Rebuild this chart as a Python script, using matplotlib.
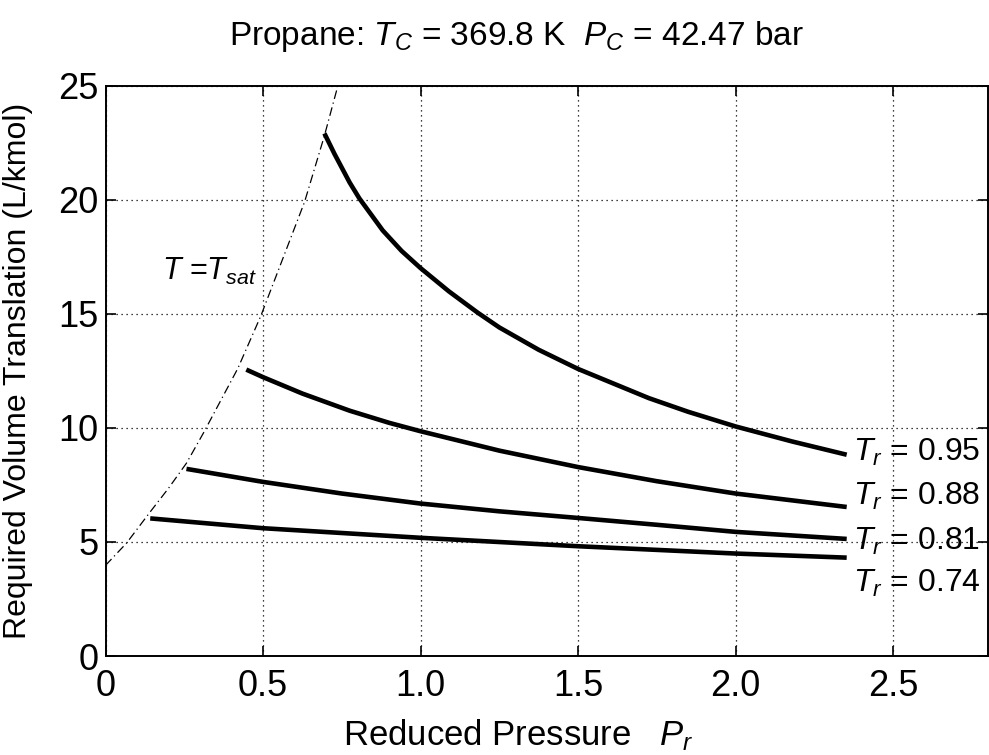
import matplotlib
matplotlib.use("Agg")
import matplotlib.pyplot as plt

plt.rcParams["font.family"] = ["Liberation Sans", "DejaVu Sans"]
plt.rcParams["mathtext.fontset"] = "custom"
plt.rcParams["mathtext.it"] = "Liberation Sans:italic"
plt.rcParams["mathtext.rm"] = "Liberation Sans"
plt.rcParams["mathtext.bf"] = "Liberation Sans:bold"

# isotherms: reduced pressure vs required volume translation (L/kmol)
pr_95 = [0.695, 0.727, 0.775, 0.806, 0.88, 0.94, 1.0, 1.09, 1.181, 1.25, 1.375, 1.5,
         1.725, 1.85, 2.0, 2.18, 2.353]
v_95 = [22.9, 22.0, 20.75, 20.05, 18.65, 17.75, 17.0, 15.98, 15.05, 14.4, 13.42, 12.58,
        11.3, 10.7, 10.06, 9.4, 8.82]
pr_88 = [0.447, 0.5, 0.625, 0.775, 0.9, 1.0, 1.25, 1.5, 1.75, 2.0, 2.353]
v_88 = [12.55, 12.22, 11.5, 10.75, 10.22, 9.85, 9.0, 8.28, 7.66, 7.12, 6.53]
pr_81 = [0.257, 0.5, 0.75, 1.0, 1.25, 1.5, 1.75, 2.0, 2.353]
v_81 = [8.2, 7.63, 7.12, 6.68, 6.34, 6.05, 5.75, 5.44, 5.13]
pr_74 = [0.142, 0.5, 1.0, 1.5, 2.0, 2.353]
v_74 = [6.03, 5.6, 5.18, 4.81, 4.49, 4.31]

# saturation boundary
pr_sat = [0.0, 0.067, 0.141, 0.2, 0.257, 0.31, 0.42, 0.493, 0.632, 0.695, 0.734, 0.75]
v_sat = [3.97, 4.95, 6.3, 7.35, 8.45, 9.75, 12.6, 14.9, 19.9, 22.8, 24.8, 25.7]

tr_labels = ["0.95", "0.88", "0.81", "0.74"]
tr_label_y = [8.57, 6.6, 4.67, 2.81]
xticks = [0, 0.5, 1.0, 1.5, 2.0, 2.5]
xticklabels = ["0", "0.5", "1.0", "1.5", "2.0", "2.5"]
yticks = [0, 5, 10, 15, 20, 25]

W, H = 989, 755
fig = plt.figure(figsize=(W / 100, H / 100), dpi=100)
ax = fig.add_axes([105.5 / W, 99 / H, 882 / W, 570.5 / H])

for px, vy in [(pr_95, v_95), (pr_88, v_88), (pr_81, v_81), (pr_74, v_74)]:
    ax.plot(px, vy, color="black", lw=3.3, solid_capstyle="butt",
            solid_joinstyle="round", zorder=3)
ax.plot(pr_sat, v_sat, color="black", lw=0.9, dashes=(7, 3, 1, 3), zorder=2)

for lab, yy in zip(tr_labels, tr_label_y):
    ax.text(2.374, yy, r"$T_r$ = " + lab, fontsize=23, ha="left", va="baseline", zorder=4)
ax.text(0.178, 16.5, r"$T$ =$T_{sat}$", fontsize=22, ha="left", va="baseline")

ax.set_xlim(0, 2.8)
ax.set_ylim(0, 25)
ax.set_xticks(xticks)
ax.set_xticklabels(xticklabels)
ax.set_yticks(yticks)
ax.grid(True, color="black", linestyle=(0, (1, 3)), lw=0.9)
ax.tick_params(direction="in", length=7, width=1.2, labelsize=26, top=True, right=True)
ax.tick_params(axis="x", pad=9)
ax.tick_params(axis="y", pad=5)
for s in ax.spines.values():
    s.set_linewidth(1.4)

ax.set_xlabel(r"Reduced Pressure   $P_r$", fontsize=25)
ax.xaxis.set_label_coords((518 - 105.5) / 882, -0.108)
ax.set_ylabel("Required Volume Translation (L/kmol)", fontsize=23)
ax.yaxis.set_label_coords(-0.082, 0.5)

fig.text(517 / W, 1 - 36 / H, r"Propane: $T_C$ = 369.8 K  $P_C$ = 42.47 bar",
         fontsize=24, ha="center", va="center")

fig.savefig("out.png", dpi=100, facecolor="white")
